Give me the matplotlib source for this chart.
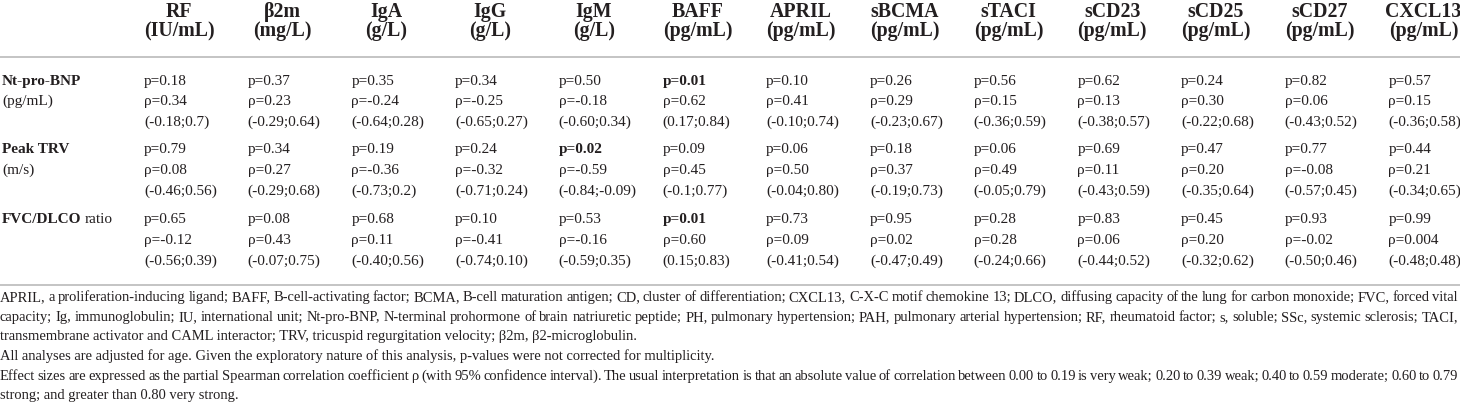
import matplotlib
matplotlib.use("Agg")
import matplotlib.pyplot as plt

# ---------------- data ----------------
columns = ["RF", "β2m", "IgA", "IgG", "IgM", "BAFF", "APRIL", "sBCMA",
           "sTACI", "sCD23", "sCD25", "sCD27", "CXCL13"]
column_units = ["(IU/mL)", "(mg/L)", "(g/L)", "(g/L)", "(g/L)", "(pg/mL)",
                "(pg/mL)", "(pg/mL)", "(pg/mL)", "(pg/mL)", "(pg/mL)",
                "(pg/mL)", "(pg/mL)"]

row_names = ["Nt-pro-BNP", "Peak TRV", "FVC/DLCO"]
row_units = ["(pg/mL)", "(m/s)", "ratio"]

p_ntprobnp = ["0.18", "0.37", "0.35", "0.34", "0.50", "0.01", "0.10", "0.26",
              "0.56", "0.62", "0.24", "0.82", "0.57"]
rho_ntprobnp = ["0.34", "0.23", "-0.24", "-0.25", "-0.18", "0.62", "0.41",
                "0.29", "0.15", "0.13", "0.30", "0.06", "0.15"]
ci_ntprobnp = ["-0.18;0.7", "-0.29;0.64", "-0.64;0.28", "-0.65;0.27",
               "-0.60;0.34", "0.17;0.84", "-0.10;0.74", "-0.23;0.67",
               "-0.36;0.59", "-0.38;0.57", "-0.22;0.68", "-0.43;0.52",
               "-0.36;0.58"]

p_trv = ["0.79", "0.34", "0.19", "0.24", "0.02", "0.09", "0.06", "0.18",
         "0.06", "0.69", "0.47", "0.77", "0.44"]
rho_trv = ["0.08", "0.27", "-0.36", "-0.32", "-0.59", "0.45", "0.50", "0.37",
           "0.49", "0.11", "0.20", "-0.08", "0.21"]
ci_trv = ["-0.46;0.56", "-0.29;0.68", "-0.73;0.2", "-0.71;0.24",
          "-0.84;-0.09", "-0.1;0.77", "-0.04;0.80", "-0.19;0.73",
          "-0.05;0.79", "-0.43;0.59", "-0.35;0.64", "-0.57;0.45",
          "-0.34;0.65"]

p_fvcdlco = ["0.65", "0.08", "0.68", "0.10", "0.53", "0.01", "0.73", "0.95",
             "0.28", "0.83", "0.45", "0.93", "0.99"]
rho_fvcdlco = ["-0.12", "0.43", "0.11", "-0.41", "-0.16", "0.60", "0.09",
               "0.02", "0.28", "0.06", "0.20", "-0.02", "0.004"]
ci_fvcdlco = ["-0.56;0.39", "-0.07;0.75", "-0.40;0.56", "-0.74;0.10",
              "-0.59;0.35", "0.15;0.83", "-0.41;0.54", "-0.47;0.49",
              "-0.24;0.66", "-0.44;0.52", "-0.32;0.62", "-0.50;0.46",
              "-0.48;0.48"]

footnote_lines = [
    "APRIL, a proliferation-inducing ligand; BAFF, B-cell-activating factor; BCMA, B-cell maturation antigen; CD, cluster of differentiation; CXCL13, C-X-C motif chemokine 13; DLCO, diffusing capacity of the lung for carbon monoxide; FVC, forced vital",
    "capacity; Ig, immunoglobulin; IU, international unit; Nt-pro-BNP, N-terminal prohormone of brain natriuretic peptide; PH, pulmonary hypertension; PAH, pulmonary arterial hypertension; RF, rheumatoid factor; s, soluble; SSc, systemic sclerosis; TACI,",
    "transmembrane activator and CAML interactor; TRV, tricuspid regurgitation velocity; β2m, β2-microglobulin.",
    "All analyses are adjusted for age. Given the exploratory nature of this analysis, p-values were not corrected for multiplicity.",
    "Effect sizes are expressed as the partial Spearman correlation coefficient ρ (with 95% confidence interval). The usual interpretation is that an absolute value of correlation between 0.00 to 0.19 is very weak; 0.20 to 0.39 weak; 0.40 to 0.59 moderate; 0.60 to 0.79",
    "strong; and greater than 0.80 very strong.",
]
footnote_justified = [True, True, False, False, True, False]

# ---------------- layout ----------------
W, H = 1460, 404
FONT = ["Liberation Serif", "DejaVu Serif"]
COLOR = "#231f20"
RULE = "#c4c4c4"
HEAD_SIZE = 14.3
BODY_SIZE = 11.0
FOOT_SIZE = 10.45

col_x0 = 144.0
col_step = 103.7
head_base = [17, 36]
row_bases = [[85, 105, 126], [153, 174, 195], [223, 244, 265]]
rule_y = [57, 285]
foot_bases = [301, 321, 340, 360, 380, 399]

fig = plt.figure(figsize=(W / 100, H / 100), dpi=100)
ax = fig.add_axes([0, 0, 1, 1])
ax.set_xlim(0, W)
ax.set_ylim(H, 0)
ax.axis("off")
renderer = fig.canvas.get_renderer()


def measure(s, size):
    t = ax.text(0, 0, s, fontsize=size, family=FONT)
    w = t.get_window_extent(renderer).width
    t.remove()
    return w


# header
for i, (name, unit) in enumerate(zip(columns, column_units)):
    cx = col_x0 + i * col_step + 35
    ax.text(cx, head_base[0], name, ha="center", va="baseline",
            fontsize=HEAD_SIZE, fontweight="bold", family=FONT, color=COLOR)
    ax.text(cx, head_base[1], unit, ha="center", va="baseline",
            fontsize=HEAD_SIZE, fontweight="bold", family=FONT, color=COLOR)

for y in rule_y:
    ax.plot([0, W], [y, y], color=RULE, lw=1.4, solid_capstyle="butt")

# body
all_p = [p_ntprobnp, p_trv, p_fvcdlco]
all_rho = [rho_ntprobnp, rho_trv, rho_fvcdlco]
all_ci = [ci_ntprobnp, ci_trv, ci_fvcdlco]

for r, name in enumerate(row_names):
    yb = row_bases[r]
    t = ax.text(2, yb[0], name, ha="left", va="baseline", fontsize=BODY_SIZE,
                fontweight="bold", family=FONT, color=COLOR)
    if row_units[r].startswith("("):
        ax.text(2, yb[1], row_units[r], ha="left", va="baseline",
                fontsize=BODY_SIZE, family=FONT, color=COLOR)
    else:
        wb = t.get_window_extent(renderer).width
        ax.text(2 + wb + 3, yb[0], row_units[r], ha="left", va="baseline",
                fontsize=BODY_SIZE, family=FONT, color=COLOR)
    for c in range(len(columns)):
        x = col_x0 + c * col_step
        p = all_p[r][c]
        ax.text(x, yb[0], "p=" + p, ha="left", va="baseline",
                fontsize=BODY_SIZE, family=FONT, color=COLOR,
                fontweight="bold" if float(p) < 0.05 else "normal")
        ax.text(x, yb[1], "ρ=" + all_rho[r][c], ha="left", va="baseline",
                fontsize=BODY_SIZE, family=FONT, color=COLOR)
        ax.text(x, yb[2], "(" + all_ci[r][c] + ")", ha="left", va="baseline",
                fontsize=BODY_SIZE, family=FONT, color=COLOR)

# footnotes (justified lines are laid out word by word)
for line, just, y in zip(footnote_lines, footnote_justified, foot_bases):
    if not just:
        ax.text(0, y, line, ha="left", va="baseline", fontsize=FOOT_SIZE,
                family=FONT, color=COLOR)
        continue
    words = line.split(" ")
    n = len(words)
    starts = [0.0]
    for i in range(1, n):
        starts.append(measure(" ".join(words[:i + 1]), FOOT_SIZE)
                      - measure(words[i], FOOT_SIZE))
    natural = measure(line, FOOT_SIZE)
    extra = (W - 2 - natural) / (n - 1)
    for i, w in enumerate(words):
        ax.text(starts[i] + i * extra, y, w, ha="left", va="baseline",
                fontsize=FOOT_SIZE, family=FONT, color=COLOR)

fig.savefig("out.png", dpi=100, facecolor="white")
